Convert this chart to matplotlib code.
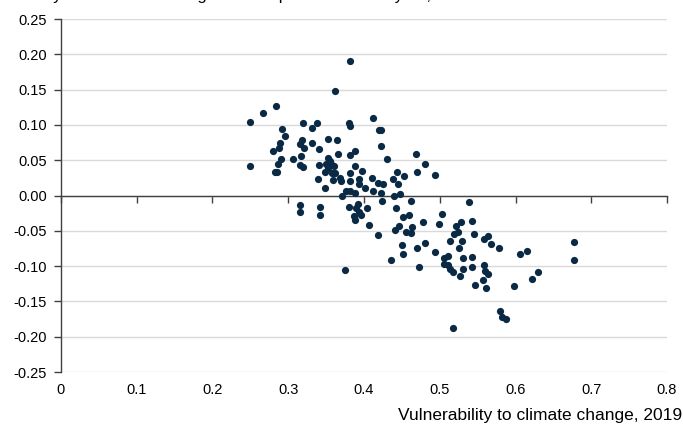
import matplotlib
matplotlib.use("Agg")
import matplotlib.pyplot as plt
from matplotlib.ticker import FormatStrFormatter, MultipleLocator

plt.rcParams["font.family"] = ["Liberation Sans", "DejaVu Sans"]
plt.rcParams["axes.unicode_minus"] = False

title = "Country-level annual change in GDP per head in the year, %"
x_label = "Vulnerability to climate change, 2019"

# vulnerability index (x) and change (y)
vulnerability = [
    0.381, 0.362, 0.284, 0.267, 0.250, 0.320, 0.338, 0.331, 0.292, 0.380,
    0.381, 0.296, 0.352, 0.365, 0.318, 0.316, 0.331, 0.289, 0.321, 0.341,
    0.288, 0.280, 0.388, 0.366, 0.381, 0.317, 0.290, 0.306, 0.352, 0.355,
    0.250, 0.287, 0.315, 0.319, 0.341, 0.350, 0.357, 0.361, 0.388, 0.398,
    0.282, 0.285, 0.348, 0.353, 0.358, 0.362, 0.381, 0.339, 0.368, 0.369,
    0.359, 0.382, 0.393, 0.393, 0.349, 0.401, 0.376, 0.381, 0.388, 0.371,
    0.316, 0.316, 0.342, 0.342, 0.380, 0.392, 0.390, 0.393, 0.396, 0.387,
    0.388, 0.375,
    0.412, 0.420, 0.422, 0.422, 0.431, 0.468, 0.481, 0.470, 0.494, 0.410,
    0.418, 0.425, 0.412, 0.422, 0.438, 0.444, 0.445, 0.453, 0.439, 0.447,
    0.404, 0.424, 0.442, 0.407, 0.418, 0.451, 0.459, 0.462, 0.441, 0.446,
    0.455, 0.462, 0.463, 0.478, 0.450, 0.451, 0.436, 0.470, 0.480, 0.473,
    0.503, 0.499, 0.494, 0.538, 0.522, 0.528, 0.543, 0.519, 0.524, 0.514,
    0.530, 0.525, 0.545, 0.505, 0.511, 0.505, 0.511, 0.531, 0.542, 0.514,
    0.518, 0.531, 0.527, 0.543, 0.547, 0.518,
    0.559, 0.564, 0.567, 0.578, 0.559, 0.560, 0.564, 0.557, 0.561, 0.598,
    0.606, 0.615, 0.630, 0.622, 0.677, 0.677, 0.580, 0.582, 0.587,
]
change = [
    0.190, 0.148, 0.127, 0.117, 0.104, 0.102, 0.102, 0.095, 0.094, 0.102,
    0.099, 0.084, 0.080, 0.078, 0.079, 0.073, 0.074, 0.074, 0.068, 0.066,
    0.067, 0.063, 0.063, 0.059, 0.057, 0.056, 0.052, 0.052, 0.053, 0.049,
    0.042, 0.044, 0.043, 0.040, 0.043, 0.045, 0.045, 0.042, 0.042, 0.035,
    0.034, 0.034, 0.034, 0.039, 0.032, 0.032, 0.032, 0.023, 0.025, 0.020,
    0.022, 0.020, 0.024, 0.017, 0.011, 0.011, 0.006, 0.007, 0.004, -0.001,
    -0.014, -0.024, -0.016, -0.028, -0.016, -0.012, -0.018, -0.023, -0.027, -0.029,
    -0.034, -0.105,
    0.110, 0.093, 0.093, 0.070, 0.052, 0.059, 0.045, 0.033, 0.029, 0.025,
    0.018, 0.017, 0.007, 0.003, 0.024, 0.034, 0.017, 0.028, -0.001, 0.002,
    -0.017, -0.008, -0.018, -0.042, -0.056, -0.031, -0.028, -0.008, -0.049, -0.043,
    -0.051, -0.053, -0.045, -0.038, -0.070, -0.083, -0.091, -0.075, -0.067, -0.101,
    -0.026, -0.041, -0.080, -0.009, -0.043, -0.038, -0.036, -0.055, -0.052, -0.064,
    -0.065, -0.075, -0.054, -0.088, -0.085, -0.097, -0.098, -0.088, -0.087, -0.104,
    -0.109, -0.104, -0.114, -0.101, -0.127, -0.187,
    -0.061, -0.057, -0.068, -0.075, -0.099, -0.107, -0.111, -0.119, -0.131, -0.128,
    -0.083, -0.078, -0.108, -0.118, -0.066, -0.092, -0.164, -0.172, -0.175,
]

x_ticks = [0, 0.1, 0.2, 0.3, 0.4, 0.5, 0.6, 0.7, 0.8]
x_tick_labels = ["0", "0.1", "0.2", "0.3", "0.4", "0.5", "0.6", "0.7", "0.8"]

dot_color = "#0a2945"
axis_color = "#404040"
grid_color = "#d9d9d9"

fig = plt.figure(figsize=(6.83, 4.28), dpi=100)
ax = fig.add_axes([0.0893, 0.1308, 0.8873, 0.8248])

ax.set_xlim(0, 0.8)
ax.set_ylim(-0.25, 0.25)
ax.yaxis.set_major_locator(MultipleLocator(0.05))
ax.yaxis.set_major_formatter(FormatStrFormatter("%.2f"))
ax.grid(axis="y", color=grid_color, lw=1.0)
ax.set_axisbelow(True)

ax.scatter(vulnerability, change, s=27, color=dot_color, linewidths=0, zorder=3)

for side in ("top", "right"):
    ax.spines[side].set_visible(False)
ax.spines["left"].set_color(axis_color)
ax.spines["left"].set_linewidth(1.0)
ax.spines["bottom"].set_position(("data", 0))
ax.spines["bottom"].set_color(axis_color)
ax.spines["bottom"].set_linewidth(1.0)

ax.set_xticks(x_ticks)
ax.tick_params(axis="x", direction="out", length=5, width=1, color=axis_color,
               labelbottom=False)
ax.tick_params(axis="y", direction="out", length=5, width=1, color=axis_color,
               labelsize=10.5, pad=5)

# tick labels sit under the plot, not on the zero line
sec = ax.secondary_xaxis("bottom")
sec.set_xticks(x_ticks, labels=x_tick_labels)
sec.tick_params(length=0, labelsize=10.5, pad=8)
sec.spines["bottom"].set_visible(False)

fig.text(0.999, 0.018, x_label, ha="right", va="baseline", fontsize=12.5)
# the title runs off the top edge in the source, only its descenders show
fig.text(0.005, 0.999, title, ha="left", va="baseline", fontsize=12)

fig.savefig("out.png", dpi=100)
